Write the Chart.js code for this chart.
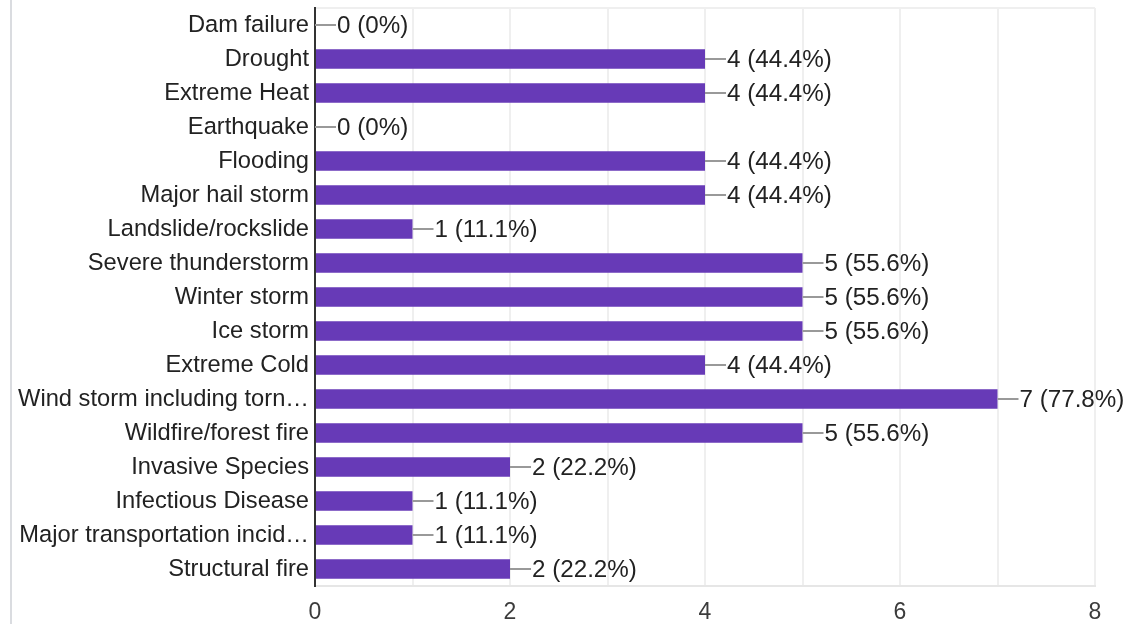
<!DOCTYPE html>
<html>
<head>
<title>Hazards: Chart.js</title>
<script src="https://cdn.jsdelivr.net/npm/chart.js@4/dist/chart.umd.min.js"></script>
<style>
body { margin: 0; background: #fff; }
#wrap { position: relative; width: 1126px; height: 624px; }
#edge { position: absolute; left: 10px; top: 0; width: 2px; height: 624px; background: #dadce0; }
#chart { position: absolute; left: 0; top: 0; }
</style>
</head>
<body>

<div id="wrap">
	<div id="edge"></div>
	<canvas id="chart" width="1126" height="624"></canvas>
</div>

<script>
var HAZARDS = [
    'Dam failure', 'Drought', 'Extreme Heat', 'Earthquake', 'Flooding',
    'Major hail storm', 'Landslide/rockslide', 'Severe thunderstorm', 'Winter storm',
    'Ice storm', 'Extreme Cold', 'Wind storm including torn\u2026', 'Wildfire/forest fire',
    'Invasive Species', 'Infectious Disease', 'Major transportation incid\u2026', 'Structural fire'
];
var COUNTS = [0, 4, 4, 0, 4, 4, 1, 5, 5, 5, 4, 7, 5, 2, 1, 1, 2];
var RESPONDENTS = 9;
var X_MAX = 8;
var X_LABEL_STEP = 2;

var FONT = '"Liberation Sans", Arial, sans-serif';
var CHART;

function pctText(v) {
    var p = (v / RESPONDENTS * 100).toFixed(1);
    if (p.endsWith('.0')) p = p.slice(0, -2);
    return v + ' (' + p + '%)';
}

// leader line + "n (p%)" after each bar
var valueLabels = {
    id: 'valueLabels',
    afterDatasetsDraw: function (chart) {
        var ctx = chart.ctx;
        var meta = chart.getDatasetMeta(0);
        ctx.save();
        ctx.font = '24.2px ' + FONT;
        ctx.textBaseline = 'middle';
        meta.data.forEach(function (bar, i) {
            var x = bar.x, y = bar.y;
            ctx.strokeStyle = '#999999';
            ctx.lineWidth = 2;
            ctx.beginPath();
            ctx.moveTo(x, y);
            ctx.lineTo(x + 21, y);
            ctx.stroke();
            ctx.fillStyle = '#222222';
            ctx.fillText(pctText(COUNTS[i]), x + 22, y + 1);
        });
        ctx.restore();
    }
};

function drawChart() {
    const ctx = document.getElementById('chart').getContext('2d');
    CHART = new Chart(ctx, {
        type: 'bar',
        data: {
            labels: HAZARDS,
            datasets: [{
                data: COUNTS,
                backgroundColor: '#673ab7',
                barPercentage: 0.57,
                categoryPercentage: 1
            }]
        },
        options: {
            indexAxis: 'y',
            responsive: false,
            animation: false,
            layout: {
                padding: { top: 8, right: 31, left: 0, bottom: 0 }
            },
            plugins: {
                legend: { display: false },
                tooltip: { enabled: false }
            },
            scales: {
                x: {
                    min: 0,
                    max: X_MAX,
                    afterFit: function (s) { s.height = 38; },
                    ticks: {
                        stepSize: 1,
                        padding: 13,
                        color: '#3c3c3c',
                        font: { family: FONT, size: 23 },
                        callback: function (v) { return v % X_LABEL_STEP === 0 ? v : ''; }
                    },
                    grid: {
                        drawTicks: false,
                        lineWidth: 2,
                        color: function (c) { return c.index === 0 ? 'rgba(0,0,0,0)' : '#efefef'; }
                    },
                    border: { display: true, color: '#e6e6e6', width: 2 }
                },
                y: {
                    afterFit: function (s) {
                        s.width = 315;
                        s.paddingTop = 0;
                        s.paddingBottom = 0;
                    },
                    ticks: {
                        padding: 6,
                        color: '#222222',
                        autoSkip: false,
                        font: { family: FONT, size: 23.7 }
                    },
                    grid: {
                        drawTicks: false,
                        lineWidth: 2,
                        color: function (c) { return c.index === 0 ? '#efefef' : 'rgba(0,0,0,0)'; }
                    },
                    border: { display: true, color: '#333333', width: 2 }
                }
            }
        },
        plugins: [valueLabels]
    });
}

drawChart();
</script>

</body>
</html>
